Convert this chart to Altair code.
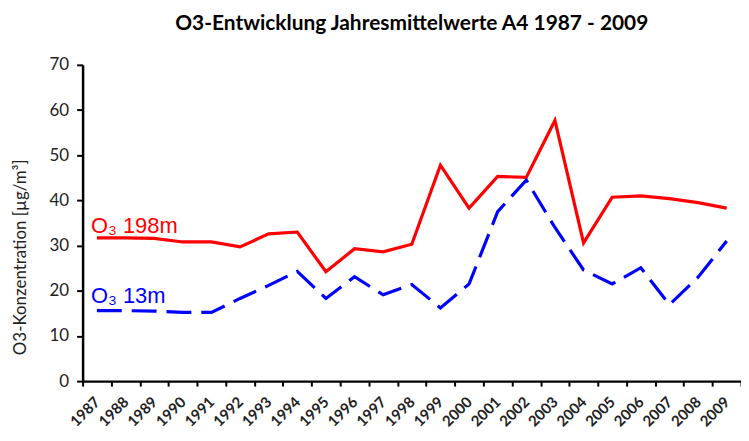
import altair as alt
import pandas as pd

years = ["1987", "1988", "1989", "1990", "1991", "1992", "1993", "1994", "1995", "1996",
         "1997", "1998", "1999", "2000", "2001", "2002", "2003", "2004", "2005", "2006",
         "2007", "2008", "2009"]
o3_198m = [31.7, 31.7, 31.6, 30.8, 30.8, 29.7, 32.6, 33.0, 24.2, 29.3,
           28.6, 30.3, 47.8, 38.3, 45.3, 45.1, 57.7, 30.6, 40.7, 41.0,
           40.4, 39.5, 38.3]
o3_13m = [15.6, 15.6, 15.5, 15.2, 15.2, 18.3, 21.2, 24.3, 18.3, 23.1,
          19.1, 21.4, 16.2, 21.5, 37.5, 44.5, 34.0, 24.6, 21.5, 25.1,
          16.9, 23.0, 31.0]
y_ticks = [0, 10, 20, 30, 40, 50, 60, 70]

label_text = ["O\u2083 198m", "O\u2083 13m"]
label_year = ["1987", "1987"]
label_value = [32.8, 17.4]
label_color = ["#FF0000", "#0000FF"]

df = pd.DataFrame({"year": years, "r": o3_198m, "b": o3_13m})
lab = pd.DataFrame({"t": label_text, "year": label_year, "v": label_value, "c": label_color})

xscale = alt.Scale(type="band", paddingInner=0, paddingOuter=0, domain=years)
xaxis = alt.Axis(title=None, labelAngle=-45, labelFont="Lato", labelFontSize=15,
                 labelFontWeight="bold", labelColor="#222222", tickBand="extent",
                 labelAlign="right", labelBaseline="middle",
                 domainColor="black", domainWidth=2.5, tickColor="black", tickWidth=2,
                 tickSize=5, grid=False, labelPadding=13)
yscale = alt.Scale(domain=[0, 70], nice=False)
yaxis = alt.Axis(title="O3-Konzentration [\u00b5g/m\u00b3]", values=y_ticks, grid=False,
                 labelFont="Lato", labelFontSize=17, labelColor="#222222", labelPadding=8,
                 domainColor="black", domainWidth=2.5, tickColor="black", tickWidth=2,
                 tickSize=6, titleFont="Lato", titleFontSize=17, titleFontWeight="normal",
                 titleColor="#222222", titleY=193, titleX=-53)

base = alt.Chart(df)
red = base.mark_line(color="#FF0000", strokeWidth=3.2).encode(
    x=alt.X("year:O", scale=xscale, axis=xaxis, bandPosition=0.5),
    y=alt.Y("r:Q", scale=yscale, axis=yaxis),
)
blue = base.mark_line(color="#0000FF", strokeWidth=3.2, strokeDash=[25, 10]).encode(
    x=alt.X("year:O", scale=xscale, bandPosition=0.5),
    y=alt.Y("b:Q", scale=yscale),
)
texts = alt.Chart(lab).mark_text(font="Liberation Sans", fontSize=22, align="left",
                                 baseline="alphabetic", dx=-6).encode(
    x=alt.X("year:O", scale=xscale, bandPosition=0.5),
    y=alt.Y("v:Q", scale=yscale),
    text="t:N",
    color=alt.Color("c:N", scale=None),
)

chart = alt.layer(red, blue, texts).properties(
    width=662, height=318,
    title=alt.TitleParams("O3-Entwicklung Jahresmittelwerte A4 1987 - 2009", font="Lato",
                          fontSize=21, fontWeight="bold", anchor="middle", offset=22,
                          color="black"),
    autosize=alt.AutoSizeParams(type="none"),
    padding={"left": 75, "top": 56, "right": 0, "bottom": 51},
).configure_view(stroke=None)

chart.save("out.html", embed_options={"renderer": "svg", "actions": False})
